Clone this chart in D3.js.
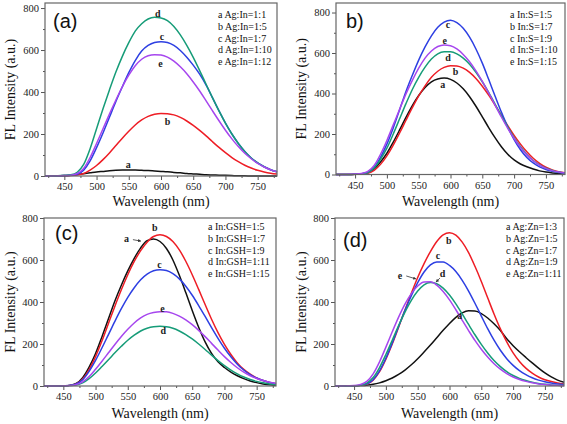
<!DOCTYPE html>
<html><head><meta charset="utf-8">
<script src="https://cdn.jsdelivr.net/npm/d3@7"></script>
<style>
html,body{margin:0;padding:0;background:#fff;}
svg{display:block;}
</style></head>
<body>
<svg id="chart" width="567" height="424"></svg>
<script>
// ---------- DATA ----------
const wavelengths = [420,430,440,450,460,470,480,490,500,510,520,530,540,550,560,570,580,590,600,610,620,630,640,650,660,670,680,690,700,710,720,730,740,750,760,770,780];
const xTickValues = [450,500,550,600,650,700,750];
const yTickValues = [0,200,400,600,800];
const seriesKeys = ["a","b","c","d","e"];

// Panel (a): Ag:In ratio
const legendA = ["a Ag:In=1:1","b Ag:In=1:5","c Ag:In=1:7","d Ag:In=1:10","e Ag:In=1:12"];
const panelA_a = [0,0,1,2,4,7,11,15,19,22,25,27,28,28,28,27,26,24,22,20,17,15,12,10,8,6,5,4,3,2,1,1,0,0,0,0,0];
const panelA_b = [0,0,0,1,2,5,12,28,50,78,110,145,180,213,243,267,284,294,298,297,291,279,262,241,217,191,163,136,111,88,68,51,38,27,19,13,9];
const panelA_c = [0,0,0,1,3,8,28,72,135,205,280,355,425,492,550,595,622,636,640,636,622,598,566,528,485,433,372,310,252,200,155,117,86,62,44,30,20];
const panelA_d = [0,0,1,3,6,18,55,130,225,320,410,495,570,635,690,725,748,756,753,740,712,672,622,565,502,437,372,310,252,200,155,117,86,62,44,30,20];
const panelA_e = [0,0,1,2,4,12,36,88,155,225,295,362,425,480,525,556,573,578,576,566,547,520,487,448,405,358,310,263,218,177,140,108,82,60,43,30,20];

// Panel (b): In:S ratio
const legendB = ["a In:S=1:5","b In:S=1:7","c In:S=1:9","d In:S=1:10","e In:S=1:15"];
const panelB_a = [0,0,0,1,3,9,28,62,105,160,220,282,340,390,430,458,472,476,470,452,423,384,337,285,232,182,137,100,72,52,38,27,18,12,8,5,3];
const panelB_b = [0,0,0,1,2,6,20,50,92,145,205,268,330,388,438,480,510,529,537,536,525,504,474,436,392,343,292,241,193,150,112,80,55,36,23,14,9];
const panelB_c = [0,0,0,1,3,10,35,85,150,230,320,410,490,565,630,685,727,753,762,750,722,678,620,550,470,388,308,235,172,122,84,57,38,25,16,10,6];
const panelB_d = [0,0,0,1,3,10,32,75,130,200,275,350,420,480,530,570,596,606,606,596,575,545,505,458,405,348,290,234,182,137,99,69,47,31,20,12,7];
const panelB_e = [0,0,1,2,5,15,45,100,168,245,322,398,465,525,575,610,632,640,636,620,593,557,512,460,403,343,284,228,178,134,97,68,46,30,19,12,7];

// Panel (c): In:GSH ratio
const legendC = ["a In:GSH=1:5","b In:GSH=1:7","c In:GSH=1:9","d In:GSH=1:11","e In:GSH=1:15"];
const panelC_a = [0,0,0,1,3,12,40,90,155,235,320,405,480,548,608,658,692,700,688,655,600,527,445,360,280,210,155,115,88,66,49,35,24,16,10,6,4];
const panelC_b = [0,0,0,1,3,10,33,78,140,215,298,380,458,530,593,645,685,712,720,712,688,648,594,530,460,388,318,254,198,150,110,79,56,38,26,17,11];
const panelC_c = [0,0,0,1,3,10,30,70,122,182,245,308,368,422,468,506,533,549,554,550,535,510,475,432,383,331,278,227,180,139,104,76,54,38,26,17,11];
const panelC_d = [0,0,0,1,2,5,15,35,62,93,125,158,189,218,242,262,275,282,284,282,275,262,245,224,200,174,147,121,97,76,58,43,31,22,15,10,6];
const panelC_e = [0,0,0,1,2,7,20,45,80,118,158,198,236,270,300,324,341,350,354,353,346,333,315,292,265,235,203,171,140,112,87,66,49,36,26,18,12];

// Panel (d): Ag:Zn ratio
const legendD = ["a Ag:Zn=1:3","b Ag:Zn=1:5","c Ag:Zn=1:7","d Ag:Zn=1:9","e Ag:Zn=1:11"];
const panelD_a = [0,0,0,1,2,4,8,15,25,38,55,76,101,130,162,195,230,265,298,327,348,358,357,345,324,296,264,225,192,163,136,110,85,62,43,28,18];
const panelD_b = [0,0,0,1,3,9,28,68,128,200,280,362,442,517,583,640,688,720,730,718,685,635,570,498,420,343,272,210,158,117,85,61,43,30,21,14,9];
const panelD_c = [0,0,0,1,3,10,30,72,132,205,283,360,430,492,543,577,591,590,574,545,503,452,394,333,273,218,170,130,98,73,54,39,28,20,14,10,7];
const panelD_d = [0,0,0,1,4,14,40,88,150,218,288,352,408,452,482,493,487,466,433,391,343,293,244,198,157,121,92,68,50,36,26,18,12,8,5,3,2];
const panelD_e = [0,0,1,2,7,22,58,115,185,258,328,390,440,476,495,496,480,450,410,363,313,264,217,175,138,106,80,59,43,31,22,15,10,7,4,3,2];

// ---------- STYLE ----------
const colors = {a:"#111111", b:"#ee1d25", c:"#2d3fe2", d:"#169c78", e:"#a646ee"};
const serif = "'Liberation Serif','Times New Roman',serif";
const sans = "'Liberation Sans',Arial,sans-serif";

const panels = [
  {tag:"(a)", tagPos:[53,28], x0:45, x1:277, y0:3, y1:176, yMax:824, legend:legendA, legendX:218, legendY:18,
   series:{a:panelA_a,b:panelA_b,c:panelA_c,d:panelA_d,e:panelA_e},
   labels:[["d",595,758],["c",601.5,647],["e",599,517],["b",610,245],["a",549,36]], arrows:[],
   titleX:15, xTitleY:206, tickY:189},
  {tag:"b)", tagPos:[346,28], x0:336, x1:565, y0:3, y1:174.5, yMax:847, legend:legendB, legendX:510, legendY:18,
   series:{a:panelB_a,b:panelB_b,c:panelB_c,d:panelB_d,e:panelB_e},
   labels:[["c",596,726],["e",591,643],["d",596,561],["b",608,490],["a",588,425]], arrows:[],
   titleX:306, xTitleY:206, tickY:189},
  {tag:"(c)", tagPos:[55,240], x0:44, x1:276, y0:218, y1:386, yMax:800, legend:legendC, legendX:208, legendY:230,
   series:{a:panelC_a,b:panelC_b,c:panelC_c,d:panelC_d,e:panelC_e},
   labels:[["b",592,736],["a",548,685],["c",599,561],["e",604,351],["d",605,249]],
   arrows:[[558,697,570,690]],
   titleX:15, xTitleY:418, tickY:403},
  {tag:"(d)", tagPos:[343,247], x0:335, x1:564, y0:218, y1:386, yMax:800, legend:legendD, legendX:506, legendY:230,
   series:{a:panelD_a,b:panelD_b,c:panelD_c,d:panelD_d,e:panelD_e},
   labels:[["b",599,677],["c",582,606],["d",589,521],["e",522,510],["a",616,320]],
   arrows:[[532,524,547,510],[585,514,579,496]],
   titleX:306, xTitleY:418, tickY:403}
];

const svg = d3.select("#chart");
svg.append("defs").append("marker").attr("id","ah").attr("viewBox","0 0 6 6")
  .attr("refX",5).attr("refY",3).attr("markerWidth",4).attr("markerHeight",4).attr("orient","auto")
  .append("path").attr("d","M0,0L6,3L0,6Z").attr("fill","#333");

const minorX = d3.range(425, 780, 50);
const minorY = [100,300,500,700];

panels.forEach(p => {
  const x = d3.scaleLinear().domain([420,780]).range([p.x0,p.x1]);
  const y = d3.scaleLinear().domain([0,p.yMax]).range([p.y1,p.y0]);
  const g = svg.append("g");

  // curves
  const line = d3.line().x((d,i)=>x(wavelengths[i])).y(d=>y(d)).curve(d3.curveMonotoneX);
  seriesKeys.forEach(k => {
    g.append("path").datum(p.series[k]).attr("d",line)
      .attr("fill","none").attr("stroke",colors[k]).attr("stroke-width",1.5);
  });

  // axes
  const axB = g.append("g").attr("transform",`translate(0,${p.y1})`)
    .call(d3.axisBottom(x).tickValues(xTickValues).tickSize(4).tickPadding(3));
  const axBm = g.append("g").attr("transform",`translate(0,${p.y1})`)
    .call(d3.axisBottom(x).tickValues(minorX).tickSize(2).tickFormat(""));
  const axL = g.append("g").attr("transform",`translate(${p.x0},0)`)
    .call(d3.axisLeft(y).tickValues(yTickValues).tickSize(4).tickPadding(2));
  const axLm = g.append("g").attr("transform",`translate(${p.x0},0)`)
    .call(d3.axisLeft(y).tickValues(minorY).tickSize(2).tickFormat(""));
  [axB,axBm,axL,axLm].forEach(a => {
    a.select(".domain").remove();
    a.selectAll("line").attr("stroke","#555");
    a.selectAll("text").attr("font-family",serif).attr("font-size",10.5).attr("fill","#222");
  });

  // frame
  g.append("rect").attr("x",p.x0).attr("y",p.y0).attr("width",p.x1-p.x0).attr("height",p.y1-p.y0)
    .attr("fill","none").attr("stroke","#666").attr("stroke-width",1.2);

  // panel tag
  g.append("text").attr("x",p.tagPos[0]).attr("y",p.tagPos[1]).text(p.tag)
    .attr("font-family",sans).attr("font-size",20).attr("fill","#111");

  // legend
  p.legend.forEach((t,i) => {
    g.append("text").attr("x",p.legendX).attr("y",p.legendY + i*11.8).text(t)
      .attr("font-family",serif).attr("font-size",10).attr("fill","#111");
  });

  // curve labels
  p.labels.forEach(l => {
    g.append("text").attr("x",x(l[1])).attr("y",y(l[2])).text(l[0])
      .attr("text-anchor","middle").attr("font-family",serif).attr("font-size",10)
      .attr("font-weight","bold").attr("fill","#222");
  });
  p.arrows.forEach(a => {
    g.append("line").attr("x1",x(a[0])).attr("y1",y(a[1])).attr("x2",x(a[2])).attr("y2",y(a[3]))
      .attr("stroke","#333").attr("stroke-width",0.8).attr("marker-end","url(#ah)");
  });

  // axis titles
  g.append("text").attr("transform",`translate(${p.titleX},${(p.y0+p.y1)/2}) rotate(-90)`)
    .attr("text-anchor","middle").text("FL Intensity (a.u.)")
    .attr("font-family",serif).attr("font-size",14).attr("fill","#111");
  g.append("text").attr("x",(p.x0+p.x1)/2).attr("y",p.xTitleY).attr("text-anchor","middle")
    .text("Wavelength (nm)").attr("font-family",serif).attr("font-size",14).attr("fill","#111");
});
</script>
</body></html>
